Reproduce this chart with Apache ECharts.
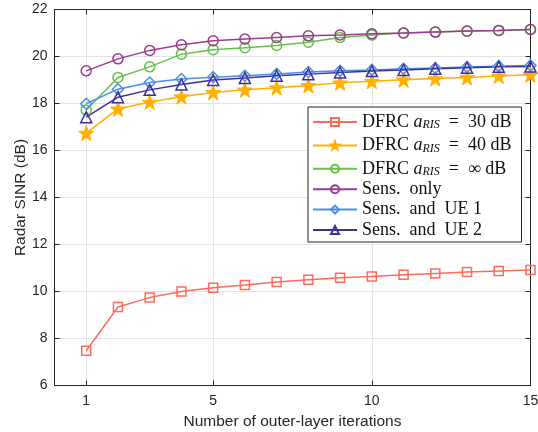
<!DOCTYPE html>
<html>
<head>
<meta charset="utf-8">
<script src="https://cdn.jsdelivr.net/npm/echarts@6/dist/echarts.min.js"></script>
<style>html,body{margin:0;padding:0;background:#fff;}#c{width:538px;height:432px;}</style>
</head>
<body>
<div id="c"></div>
<script>
const iterations = [1,2,3,4,5,6,7,8,9,10,11,12,13,14,15];
const xTicks = [1,5,10,15];
const yTicks = [6,8,10,12,14,16,18,20,22];
const dfrc30 = [7.48,9.34,9.74,10.00,10.16,10.28,10.40,10.50,10.58,10.64,10.71,10.77,10.83,10.87,10.91];
const dfrc40 = [16.74,17.77,18.06,18.29,18.47,18.58,18.67,18.77,18.88,18.95,19.01,19.06,19.11,19.17,19.22];
const dfrcInf = [17.72,19.11,19.56,20.10,20.29,20.37,20.47,20.61,20.81,20.91,21.00,21.04,21.08,21.11,21.15];
const sensOnly = [19.39,19.90,20.26,20.50,20.67,20.74,20.81,20.88,20.92,20.97,21.00,21.04,21.08,21.11,21.15];
const sensUE1 = [17.99,18.61,18.89,19.04,19.12,19.18,19.26,19.34,19.39,19.43,19.48,19.51,19.55,19.59,19.62];
const sensUE2 = [17.42,18.27,18.58,18.81,19.00,19.09,19.18,19.25,19.32,19.38,19.43,19.48,19.52,19.56,19.57];
const names = ['DFRC30','DFRC40','DFRCinf','Sens. only','Sens. and UE 1','Sens. and UE 2'];

const star = 'path://M0,-10 L2.35,-3.24 L9.51,-3.09 L3.80,1.24 L5.88,8.09 L0,4 L-5.88,8.09 L-3.80,1.24 L-9.51,-3.09 L-2.35,-3.24 Z';
const pair = arr => arr.map((v,i)=>[iterations[i], v]);
const axisCol = '#262626';
const gridCol = '#e3e3e3';
const sans = 'Liberation Sans, Arial, sans-serif';
const serif = 'Liberation Serif, DejaVu Serif, serif';

function mk(name, data, color, symbol, size, filled) {
  return {
    name, type: 'line', data: pair(data), color: color,
    symbol, symbolSize: size, showSymbol: true,
    lineStyle: {color, width: 1.5},
    itemStyle: filled ? {color, borderColor: color, borderWidth: 1} : {color: 'rgba(255,255,255,0)', borderColor: color, borderWidth: 1.5},
    emphasis: {disabled: true}, animation: false, z: 3
  };
}

const chart = echarts.init(document.getElementById('c'), null, {renderer: 'canvas'});
const legendLabels = {
  'DFRC30': '{n|DFRC }{i|a}{s|RIS}{n|  =  30 dB}',
  'DFRC40': '{n|DFRC }{i|a}{s|RIS}{n|  =  40 dB}',
  'DFRCinf': '{n|DFRC }{i|a}{s|RIS}{n|  =  ∞ dB}',
  'Sens. only': '{n|Sens.  only}',
  'Sens. and UE 1': '{n|Sens.  and  UE 1}',
  'Sens. and UE 2': '{n|Sens.  and  UE 2}'
};
chart.setOption({
  animation: false,
  backgroundColor: '#fff',
  grid: {left: 54.5, right: 7.5, top: 9.5, bottom: 46.5, containLabel: false, outerBoundsMode: 'none'},
  xAxis: [{
    type: 'value', min: 0, max: 15, position: 'bottom',
    name: 'Number of outer-layer iterations', nameLocation: 'middle', nameGap: 28.5,
    nameMoveOverlap: false,
    nameTextStyle: {fontFamily: sans, fontSize: 15.5, color: axisCol},
    axisLine: {show: true, lineStyle: {color: axisCol, width: 1}},
    axisTick: {show: true, inside: true, length: 5, customValues: xTicks, lineStyle: {color: axisCol}},
    axisLabel: {customValues: xTicks, fontFamily: sans, fontSize: 14, color: axisCol, margin: 9},
    splitLine: {show: true, lineStyle: {color: gridCol, width: 1}}
  }, {
    type: 'value', min: 0, max: 15, position: 'top',
    axisLine: {show: true, onZero: false, lineStyle: {color: axisCol, width: 1}},
    axisTick: {show: true, inside: true, length: 5, customValues: xTicks, lineStyle: {color: axisCol}},
    axisLabel: {show: false, customValues: xTicks},
    splitLine: {show: false}
  }],
  yAxis: [{
    type: 'value', min: 6, max: 22, interval: 2, position: 'left',
    name: 'Radar SINR (dB)', nameLocation: 'middle', nameGap: 26,
    nameMoveOverlap: false,
    nameTextStyle: {fontFamily: sans, fontSize: 15.5, color: axisCol},
    axisLine: {show: true, lineStyle: {color: axisCol, width: 1}},
    axisTick: {show: true, inside: true, length: 5, lineStyle: {color: axisCol}},
    axisLabel: {fontFamily: sans, fontSize: 14, color: axisCol, margin: 7},
    splitLine: {show: true, lineStyle: {color: gridCol, width: 1}}
  }, {
    type: 'value', min: 6, max: 22, interval: 2, position: 'right',
    axisLine: {show: true, onZero: false, lineStyle: {color: axisCol, width: 1}},
    axisTick: {show: true, inside: true, length: 5, lineStyle: {color: axisCol}},
    axisLabel: {show: false},
    splitLine: {show: false}
  }],
  legend: {
    orient: 'vertical', left: 308, top: 107,
    data: names,
    itemWidth: 44, itemHeight: 10, itemGap: 2.4,
    padding: [3, 10, 3, 4],
    backgroundColor: '#fff', borderColor: axisCol, borderWidth: 1,
    selectedMode: false,
    formatter: n => legendLabels[n],
    textStyle: {
      fontFamily: serif, fontSize: 18, color: '#111', lineHeight: 18,
      rich: {
        n: {fontFamily: serif, fontSize: 18, color: '#111', lineHeight: 18},
        i: {fontFamily: serif, fontSize: 18, fontStyle: 'italic', color: '#111', lineHeight: 18},
        s: {fontFamily: serif, fontSize: 12, fontStyle: 'italic', color: '#111', verticalAlign: 'bottom', lineHeight: 18, padding: [9, 0, 0, 0]}
      }
    }
  },
  series: [
    mk('DFRC30', dfrc30, '#ff6b5b', 'rect', 9, false),
    mk('DFRC40', dfrc40, '#ffb000', star, 15, true),
    mk('DFRCinf', dfrcInf, '#66c04c', 'circle', 10, false),
    mk('Sens. only', sensOnly, '#9a3c8e', 'circle', 10, false),
    mk('Sens. and UE 1', sensUE1, '#4b8fe2', 'diamond', 11, false),
    mk('Sens. and UE 2', sensUE2, '#3d2e9a', 'triangle', 11, false)
  ]
});
</script>
</body>
</html>
